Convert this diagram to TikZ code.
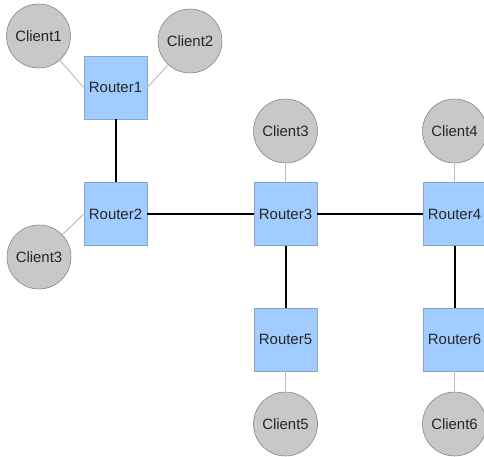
\documentclass[tikz,border=0pt]{standalone}
\usepackage{fontspec}
\setmainfont{Liberation Sans}
\usepackage{xcolor}
\usepackage{tikz}

\definecolor{routerblue}{RGB}{160,204,255}
\definecolor{routeredge}{RGB}{135,165,200}
\definecolor{clientgray}{RGB}{200,200,200}
\definecolor{clientedge}{RGB}{125,125,125}
\definecolor{linkgray}{RGB}{190,190,190}

\begin{document}
\begin{tikzpicture}[x=0.75pt,y=-0.75pt,
  router/.style={draw=routeredge,fill=routerblue,minimum size=47.25pt,inner sep=0pt},
  client/.style={circle,draw=clientedge,fill=clientgray,minimum size=48pt,inner sep=0pt},
  trunk/.style={line width=1.5pt},
  access/.style={draw=linkgray,line width=0.75pt},
  font=\fontsize{11.2}{13}\selectfont,text=black!85]
\useasboundingbox (0,0) rectangle (484,456);

\node[router] (router1) at (115.5,87.5) {Router1};
\node[router] (router2) at (115.5,214) {Router2};
\node[router] (router3) at (285.5,214) {Router3};
\node[router] (router4) at (454.5,214) {Router4};
\node[router] (router5) at (285.5,339.5) {Router5};
\node[router] (router6) at (454.5,339.5) {Router6};

\node[client] (client1) at (38.5,36) {Client1};
\node[client] (client2) at (190,41) {Client2};
\node[client] (client3a) at (39,257) {Client3};
\node[client] (client3b) at (285.5,131) {Client3};
\node[client] (client4) at (454.5,131) {Client4};
\node[client] (client5) at (285.5,424) {Client5};
\node[client] (client6) at (454.5,424) {Client6};

\draw[trunk] (router1) -- (router2);
\draw[trunk] (router2) -- (router3);
\draw[trunk] (router3) -- (router4);
\draw[trunk] (router3) -- (router5);
\draw[trunk] (router4) -- (router6);

\draw[access] (client1) -- (router1.west);
\draw[access] (client2) -- (router1.east);
\draw[access] (client3a) -- (router2.west);
\draw[access] (client3b) -- (router3);
\draw[access] (client4) -- (router4);
\draw[access] (router5) -- (client5);
\draw[access] (router6) -- (client6);
\end{tikzpicture}
\end{document}
